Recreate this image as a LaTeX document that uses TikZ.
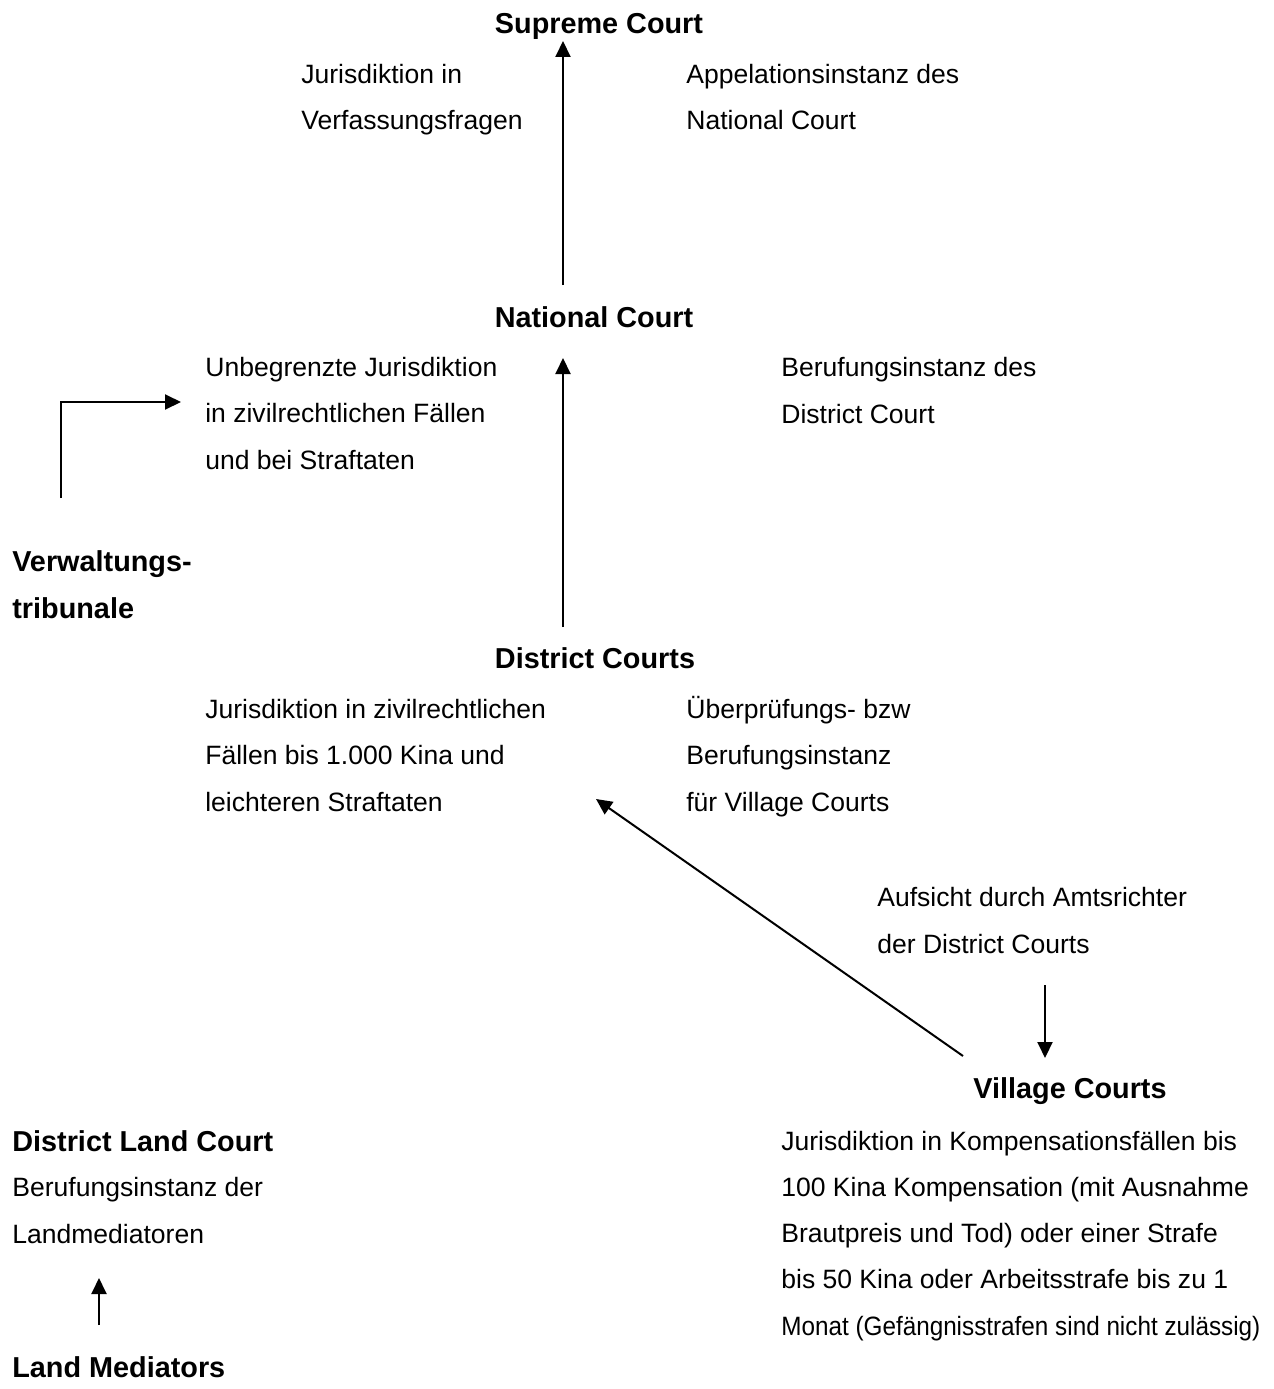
\documentclass[tikz,border=0pt]{standalone}
\usepackage{fontspec}
\setmainfont{Liberation Sans}
\usepackage{graphicx}
\usetikzlibrary{arrows.meta,calc}

\begin{document}
\begin{tikzpicture}[x=0.02cm, y=-0.02cm,
	txt/.style={font=\fontsize{15.1}{26.2}\selectfont, align=left, anchor=base west, inner sep=0pt},
	court/.style={font=\bfseries\fontsize{16.4}{26.2}\selectfont, align=left, anchor=base, inner sep=0pt},
	arr/.style={line width=0.04cm, -{Triangle[length=0.32cm, width=0.3cm]}}]
			%%%%% START %%%%%
			
			\useasboundingbox (0,0) rectangle (1274,1389);
			\coordinate (spine) at (563,0);
			
			\node[court] (sup) at (599,34) {Supreme Court};
			\node[txt] (verf) at (301,130) {Jurisdiktion in\\Verfassungsfragen};
			\node[txt] (appel) at (686,130) {Appelationsinstanz des\\National Court};
			
			\node[court] (nat) at (594,327) {National Court};
			\node[txt] (unbeg) at (205,469) {Unbegrenzte Jurisdiktion\\in zivilrechtlichen Fällen\\und bei Straftaten};
			\node[txt] (beruf) at (781,423) {Berufungsinstanz des\\District Court};
			
			\node[court, anchor=base west] (verw) at (12,618) {Verwaltungs-\\tribunale};
			
			\node[court] (dist) at (595,668) {District Courts};
			\node[txt] (zivil) at (205,811) {Jurisdiktion in zivilrechtlichen\\Fällen bis 1.000 Kina und\\leichteren Straftaten};
			\node[txt] (ueber) at (686,811) {Überprüfungs- bzw\\Berufungsinstanz\\für Village Courts};
			
			\node[txt] (aufs) at (877,953) {Aufsicht durch Amtsrichter\\der District Courts};
			
			\node[court] (vill) at (1070,1098) {Village Courts};
			\node[txt] (komp) at (781,1335) {Jurisdiktion in Kompensationsfällen bis\\100 Kina Kompensation (mit Ausnahme\\Brautpreis und Tod) oder einer Strafe\\bis 50 Kina oder Arbeitsstrafe bis zu 1\\\scalebox{0.915}[1]{Monat (Gefängnisstrafen sind nicht zulässig)}};
			
			\node[court, anchor=base west] (dlc) at (12,1151) {District Land Court};
			\node[txt] (berl) at (12,1243) {Berufungsinstanz der\\Landmediatoren};
			\node[court, anchor=base west] (lm) at (12,1377) {Land Mediators};
			
			\draw[arr] ($(nat.base -| spine)+(0,-42)$) -- ($(sup.base -| spine)+(0,7)$);
			\draw[arr] ($(dist.base -| spine)+(0,-41)$) -- ($(nat.base -| spine)+(0,31)$);
			\draw[arr] ($(verw.base west)+(49,-120)$) |- ($(unbeg.base west)+(-24,-67)$);
			\draw[arr] ($(vill.base)+(-107,-42)$) -- ($(dist.base)+(1,131)$);
			\draw[arr] ($(vill.base)+(-25,-113)$) -- ($(vill.base)+(-25,-40)$);
			\draw[arr] ($(lm.base west)+(87,-52)$) -- ($(dlc.base west)+(87,127)$);
			
			%%%%% END %%%%%
\end{tikzpicture}
\end{document}
